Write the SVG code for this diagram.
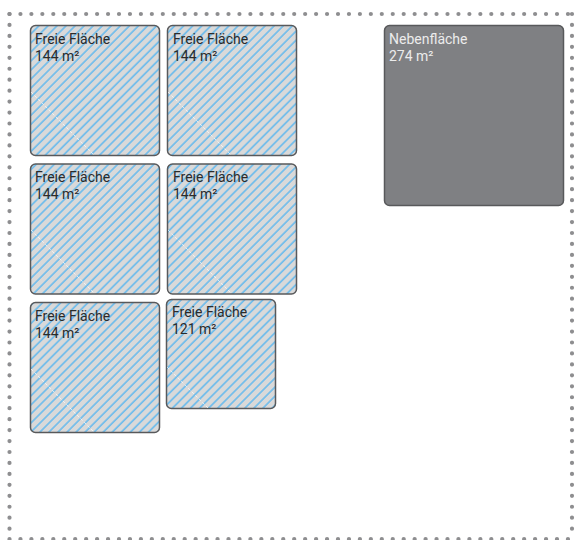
<svg xmlns="http://www.w3.org/2000/svg" width="577" height="540" viewBox="0 0 577 540">
<defs>
<pattern id="hatch" patternUnits="userSpaceOnUse" width="6.4" height="6.4" patternTransform="rotate(45)">
<rect width="6.4" height="6.4" fill="#d9d9d9"/>
<line x1="1" y1="0" x2="1" y2="6.4" stroke="#6fbcec" stroke-width="1.7"/>
</pattern>
</defs>
<style>
.border{fill:none;stroke:#8e8e90;stroke-width:4.2;stroke-linecap:round;stroke-dasharray:0 10.95}
.free{fill:url(#hatch);stroke:#58595b;stroke-width:1.5}
.side{fill:#7f8083;stroke:#58595b;stroke-width:1.5}
.diag{stroke:#ffffff;stroke-width:0.8;stroke-dasharray:3 2;opacity:0.85}
.t{font-family:"Roboto","Liberation Sans",sans-serif;font-size:14px;fill:#2b2b2b}
.tw{font-family:"Roboto","Liberation Sans",sans-serif;font-size:14px;fill:#ececec}
</style>
<g id="border">
<path class="border" d="M9.5 14 H572"/>
<path class="border" d="M9.5 14 V539"/>
<path class="border" d="M572 14 V539"/>
<path class="border" d="M9.5 539 H572"/>
</g>
<g id="flaeche1">
<rect class="free" x="30.5" y="25.5" width="129" height="130" rx="5"/>
<line class="diag" x1="31" y1="92" x2="94" y2="155"/>
<text class="t" x="35" y="44">Freie Fläche</text>
<text class="t" x="35" y="61">144 m²</text>
</g>
<g id="flaeche2">
<rect class="free" x="167.5" y="25.5" width="129" height="130" rx="5"/>
<line class="diag" x1="168" y1="92" x2="231" y2="155"/>
<text class="t" x="173" y="44">Freie Fläche</text>
<text class="t" x="173" y="61">144 m²</text>
</g>
<g id="flaeche3">
<rect class="free" x="30.5" y="164" width="129" height="130" rx="5"/>
<line class="diag" x1="31" y1="230" x2="94" y2="293"/>
<text class="t" x="35" y="182">Freie Fläche</text>
<text class="t" x="35" y="199">144 m²</text>
</g>
<g id="flaeche4">
<rect class="free" x="167.5" y="164" width="129" height="130" rx="5"/>
<line class="diag" x1="168" y1="230" x2="231" y2="293"/>
<text class="t" x="173" y="182">Freie Fläche</text>
<text class="t" x="173" y="199">144 m²</text>
</g>
<g id="flaeche5">
<rect class="free" x="30.5" y="302.5" width="129" height="130" rx="5"/>
<line class="diag" x1="31" y1="369" x2="94" y2="432"/>
<text class="t" x="35" y="321">Freie Fläche</text>
<text class="t" x="35" y="338">144 m²</text>
</g>
<g id="flaeche6">
<rect class="free" x="166.5" y="299.5" width="109" height="109" rx="5"/>
<line class="diag" x1="167" y1="367" x2="208" y2="408"/>
<text class="t" x="172" y="317">Freie Fläche</text>
<text class="t" x="172" y="334">121 m²</text>
</g>
<g id="nebenflaeche">
<rect class="side" x="384.5" y="25.5" width="179" height="180" rx="5"/>
<text class="tw" x="389" y="44">Nebenfläche</text>
<text class="tw" x="389" y="61">274 m²</text>
</g>
</svg>
